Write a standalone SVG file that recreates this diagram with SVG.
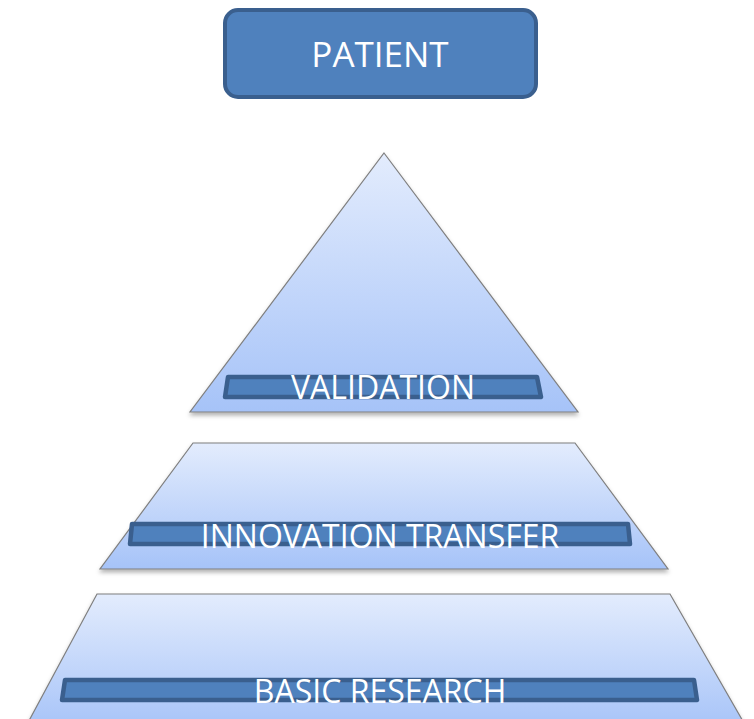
<svg xmlns="http://www.w3.org/2000/svg" width="754" height="719" viewBox="0 0 754 719">
<defs>
<linearGradient id="g" x1="0" y1="0" x2="0" y2="1">
<stop offset="0" stop-color="#E3ECFD"/>
<stop offset="1" stop-color="#A6C3F8"/>
</linearGradient>
<filter id="sh" x="-10%" y="-10%" width="120%" height="130%">
<feDropShadow dx="0" dy="3" stdDeviation="2" flood-color="#000" flood-opacity="0.3"/>
</filter>
<style>
.lvl{fill:url(#g);stroke:#7F7F7F;stroke-width:1.2;filter:url(#sh)}
.bar{fill:#4F81BD;stroke:#3A5F8E;stroke-width:4.5;stroke-linejoin:round}
.t{font-family:"Open Sans","Liberation Sans",sans-serif;fill:#FFFFFF;text-anchor:middle}
</style>
</defs>
<g id="patient">
<rect x="225" y="10" width="311" height="87" rx="13" fill="#4F81BD" stroke="#3A5F8E" stroke-width="4"/>
<text class="t" x="380" y="67" font-size="35">PATIENT</text>
</g>
<g id="validation">
<polygon class="lvl" points="384,153 578,412 190,412"/>
<polygon class="bar" points="228,377 537,377 541,397 225,397"/>
<text class="t" x="383" y="399" font-size="32">VALIDATION</text>
</g>
<g id="innovation-transfer">
<polygon class="lvl" points="193,443 575,443 668,569 100,569"/>
<polygon class="bar" points="132,524 628,524 630,544 130,544"/>
<text class="t" x="380" y="548" font-size="32">INNOVATION TRANSFER</text>
</g>
<g id="basic-research">
<polygon class="lvl" points="97,594 670,594 748,730 24,730"/>
<polygon class="bar" points="65,680 694,680 697,700 62,700"/>
<text class="t" x="380" y="703" font-size="32">BASIC RESEARCH</text>
</g>
<g id="connectors"/>
</svg>
